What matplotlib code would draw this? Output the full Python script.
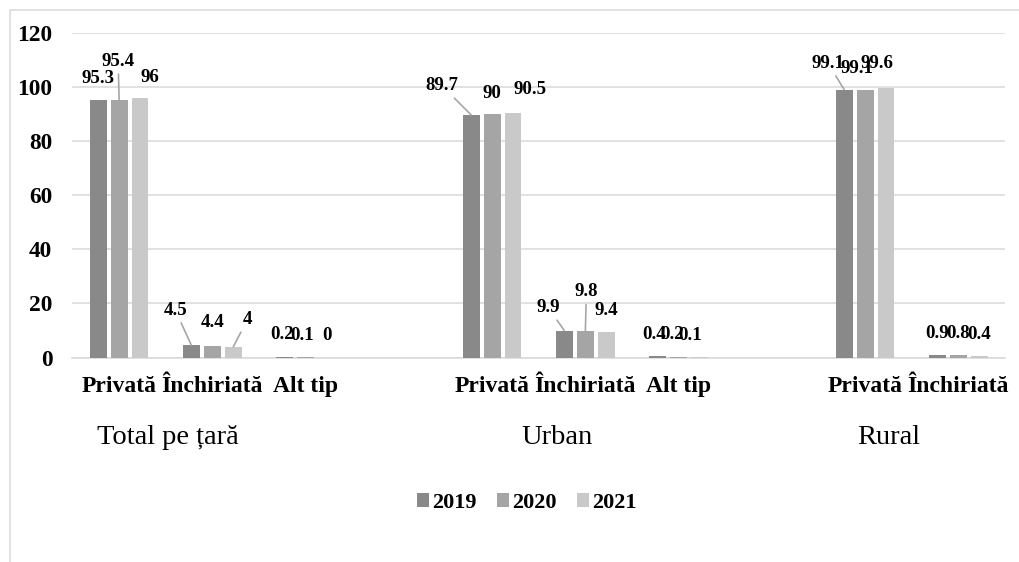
import matplotlib.pyplot as plt
from matplotlib.patches import Rectangle
from matplotlib.transforms import blended_transform_factory

plt.rcParams['font.family'] = ['Liberation Serif', 'DejaVu Serif']

# Data
years = ['2019', '2020', '2021']
groups = ['Total pe țară', 'Urban', 'Rural']
group_categories = [
    ['Privată', 'Închiriată', 'Alt tip'],
    ['Privată', 'Închiriată', 'Alt tip'],
    ['Privată', 'Închiriată'],
]
values_2019 = [95.3, 4.5, 0.2, 89.7, 9.9, 0.4, 99.1, 0.9]
values_2020 = [95.4, 4.4, 0.1, 90, 9.8, 0.2, 99.1, 0.8]
values_2021 = [96, 4, 0, 90.5, 9.4, 0.1, 99.6, 0.4]
series = [values_2019, values_2020, values_2021]

colors = ['#898989', '#A5A5A5', '#C9C9C9']

# label offsets in pixels (dx, dy up, leader line) -- Excel moved some labels by hand
label_offsets = [
    [(0, 21, False), (-16, 35, True), (-2.5, 22, False), (-29, 29, True),
     (-16, 23, True), (-3.5, 22, False), (-16, 26, True), (0, 22, False)],
    [(-1, 38, True), (0, 23, False), (-3.5, 22, False), (0, 21, False),
     (1, 39, True), (-6.5, 22, False), (-8, 21, False), (0, 22, False)],
    [(10, 20, False), (14, 27, True), (0, 22, False), (17, 23, False),
     (0, 22, False), (-9.5, 22, False), (-9, 25, False), (0, 22, False)],
]

# x slots: categories of each group, then one empty slot between groups
x_pos = []
tick_labels = []
group_slots = []
slot = 0
for cats in group_categories:
    start = slot
    for c in cats:
        x_pos.append(slot)
        tick_labels.append(c)
        slot += 1
    group_slots.append((start, slot - 1))
    slot += 1
n_slots = slot - 1

fig = plt.figure(figsize=(10.2, 5.62), dpi=100)
ax = fig.add_axes([72.5 / 1020, (562 - 357.5) / 562, (1005 - 72.5) / 1020, 324.5 / 562])

bar_w = 0.18
step = 0.225
for i, (vals, col) in enumerate(zip(series, colors)):
    xs = [x + (i - 1) * step for x in x_pos]
    ax.bar(xs, vals, width=bar_w, color=col, label=years[i], zorder=3)
    for j, (x, v) in enumerate(zip(xs, vals)):
        dx, dy, leader = label_offsets[i][j]
        arrow = dict(arrowstyle='-', color='#A6A6A6', lw=1.2, shrinkA=1, shrinkB=0) if leader else None
        ax.annotate(f'{v:g}', xy=(x, v), xytext=(dx, dy), textcoords='offset pixels',
                    ha='center', va='center', fontsize=13.6, fontweight='bold',
                    arrowprops=arrow, zorder=4)

ax.set_xlim(-0.5, n_slots - 0.5)
ax.set_ylim(0, 120)
ax.set_yticks(range(0, 121, 20))
ax.set_xticks(x_pos)
ax.set_xticklabels(tick_labels, fontsize=17, fontweight='bold')
ax.tick_params(axis='x', length=0, pad=13)
ax.tick_params(axis='y', length=0, pad=14.5, labelsize=16.8)
for t in ax.get_yticklabels():
    t.set_fontweight('bold')

ax.yaxis.grid(True, color='#D9D9D9', linewidth=1.1, zorder=0)
for s in ['top', 'right', 'left']:
    ax.spines[s].set_visible(False)
ax.spines['bottom'].set_color('#D9D9D9')
ax.spines['bottom'].set_linewidth(1.1)

# group labels under the category labels
group_label_x = [0.525, 4.70, 8.25]
trans = blended_transform_factory(ax.transData, ax.transAxes)
for gx, name in zip(group_label_x, groups):
    ax.text(gx, -0.245, name, transform=trans, ha='center', va='center', fontsize=20.5)

fig.legend(loc='center', bbox_to_anchor=(527 / 1020, 1 - 503 / 562), ncol=3, frameon=False,
           prop={'weight': 'bold', 'size': 16}, handlelength=0.55, handleheight=0.55,
           handletextpad=0.15, columnspacing=0.9)

# chart area border (cropped on the right and bottom)
fig.add_artist(Rectangle((10 / 1020, -0.2), 1.2, (552 / 562) + 0.2, transform=fig.transFigure,
                         fill=False, edgecolor='#D9D9D9', linewidth=1.1))

plt.savefig('out.png', dpi=100)
